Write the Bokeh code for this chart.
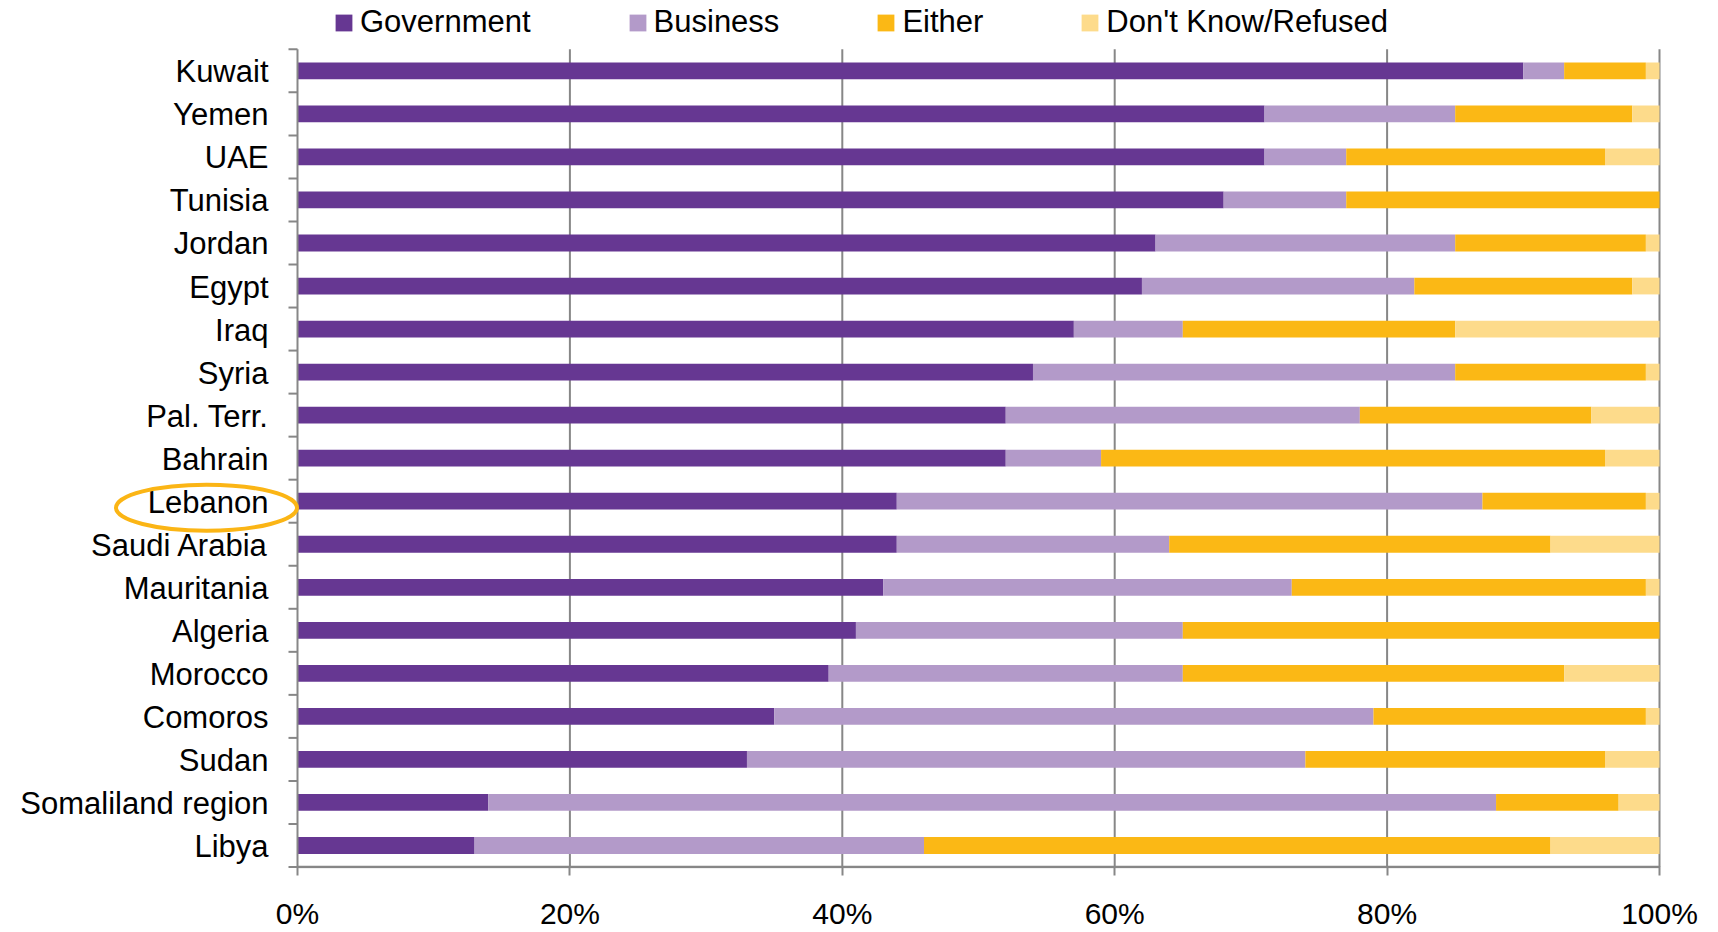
import numpy as np
from bokeh.plotting import figure
from bokeh.models import ColumnDataSource, FixedTicker, Range1d, Legend
from bokeh.core.properties import value
from bokeh.embed import file_html
from bokeh.resources import INLINE

# ---------------- data ----------------
countries = ["Kuwait", "Yemen", "UAE", "Tunisia", "Jordan", "Egypt", "Iraq", "Syria",
             "Pal. Terr.", "Bahrain", "Lebanon", "Saudi Arabia", "Mauritania", "Algeria",
             "Morocco", "Comoros", "Sudan", "Somaliland region", "Libya"]
government = [90, 71, 71, 68, 63, 62, 57, 54, 52, 52, 44, 44, 43, 41, 39, 35, 33, 14, 13]
business   = [3, 14, 6, 9, 22, 20, 8, 31, 26, 7, 43, 20, 30, 24, 26, 44, 41, 74, 33]
either     = [6, 13, 19, 23, 14, 16, 20, 14, 17, 37, 12, 28, 26, 35, 28, 20, 22, 9, 46]
dont_know  = [1, 2, 4, 0, 1, 2, 15, 1, 5, 4, 1, 8, 1, 0, 7, 1, 4, 3, 8]
series_names = ["Government", "Business", "Either", "Don't Know/Refused"]
x_ticks = [0, 20, 40, 60, 80, 100]
x_tick_labels = ["0%", "20%", "40%", "60%", "80%", "100%"]
highlight = "Lebanon"

# ---------------- style ----------------
colors = ["#663792", "#b39ac9", "#fbb815", "#fddb8b"]
axis_gray = "#878787"
FONT = "Liberation Sans"
W, H = 1718, 932
PX_X0, PX_X100 = 297.0, 1659.0      # screen x of 0% and 100%
PX_TOP, PX_BOT = 49.0, 869.5         # screen y of top/bottom of category area
FRAME_BOTTOM = 871.0                  # expected frame bottom (above axis panel)

n = len(countries)
px_per_pct = (PX_X100 - PX_X0) / 100.0
px_per_row = (PX_BOT - PX_TOP) / n

x_start = -PX_X0 / px_per_pct
x_end = 100 + (W - PX_X100) / px_per_pct
y_end = n + PX_TOP / px_per_row
y_start = -(FRAME_BOTTOM - PX_BOT) / px_per_row

ys = [n - i - 0.5 for i in range(n)]
source = ColumnDataSource(dict(
    y=ys, country=countries,
    g=government, b=business, e=either, d=dont_know,
))

p = figure(width=W, height=H, output_backend="svg", toolbar_location=None,
           title=None, x_range=Range1d(x_start, x_end), y_range=Range1d(y_start, y_end),
           y_axis_location=None, min_border=0, outline_line_color=None,
           background_fill_color="white", border_fill_color="white")
p.xgrid.visible = False
p.ygrid.visible = False

# gridlines (vertical) and axis lines
grid_x = [t for t in x_ticks if t > 0]
p.segment(x0=grid_x, x1=grid_x, y0=[0] * len(grid_x), y1=[n] * len(grid_x),
          line_color=axis_gray, line_width=2)

# stacked bars
renderers = p.hbar_stack(["g", "b", "e", "d"], y="y", height=0.39, color=colors,
                         line_color=None, source=source)

# y axis line, boundary ticks, bottom axis line
p.segment(x0=[0], x1=[0], y0=[0], y1=[n], line_color=axis_gray, line_width=2)
p.segment(x0=[0], x1=[100], y0=[0], y1=[0], line_color=axis_gray, line_width=2.5)
bounds = list(range(n + 1))
p.ray(x=[0] * len(bounds), y=bounds, length=9, length_units="screen", angle=np.pi,
      line_color=axis_gray, line_width=2)

# category labels
p.text(x=0, y="y", text="country", source=source, x_offset=-29, y_offset=1,
       text_align="right", text_baseline="middle", text_font=value(FONT),
       text_font_size="31px", text_color="black")

# highlight ellipse around Lebanon label
hi = countries.index(highlight)
p.ellipse(x=[-91 / px_per_pct], y=[ys[hi] - 6.5 / px_per_row], width=181, height=46,
          width_units="screen", height_units="screen", fill_color=None,
          line_color="#fbb515", line_width=4)

# x axis
xa = p.xaxis[0]
xa.ticker = FixedTicker(ticks=x_ticks)
xa.major_label_overrides = {t: l for t, l in zip(x_ticks, x_tick_labels)}
xa.axis_line_color = None
xa.major_tick_line_color = axis_gray
xa.major_tick_line_width = 2
xa.major_tick_out = 7
xa.major_tick_in = 2
xa.minor_tick_line_color = None
xa.major_label_standoff = 21
xa.major_label_text_font = FONT
xa.major_label_text_font_size = "30px"
xa.major_label_text_color = "black"

# legend
legend = Legend(items=[(name, [r]) for name, r in zip(series_names, renderers)],
                orientation="horizontal", location=(333, FRAME_BOTTOM - 43),
                glyph_width=21, glyph_height=21, label_standoff=6, spacing=96,
                padding=0, margin=0, border_line_color=None, background_fill_alpha=0,
                label_text_font=FONT, label_text_font_size="31px",
                label_text_color="black", label_height=36)
p.add_layout(legend)

open("out.html", "w").write(file_html(p, INLINE))
